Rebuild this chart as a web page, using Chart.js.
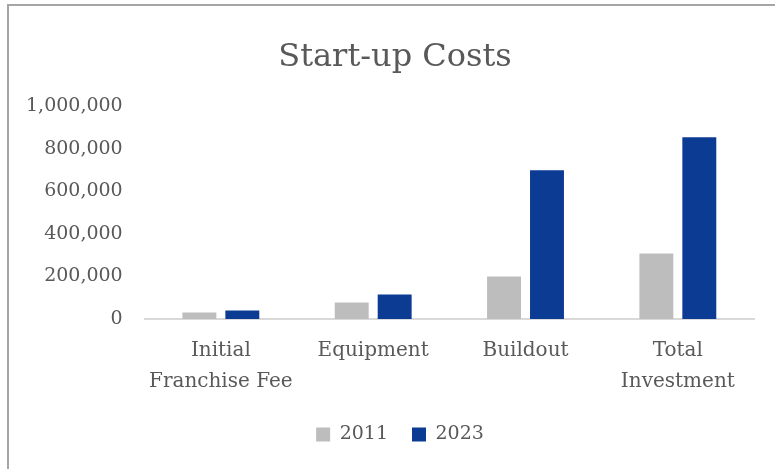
<!DOCTYPE html>
<html>
<head>
<meta charset="utf-8">
<script src="https://cdn.jsdelivr.net/npm/chart.js@4"></script>
<style>
  html, body { margin: 0; padding: 0; background: #fff; overflow: hidden; }
  #wrap { position: relative; width: 775px; height: 469px; }
  #frame {
    position: absolute; left: 7px; top: 4px; width: 900px; height: 600px;
    border: 2px solid #a5a5a5; box-sizing: border-box;
  }
  #chart { position: absolute; left: 0; top: 0; }
</style>
</head>
<body>
<div id="wrap">
  <div id="frame"></div>
  <canvas id="chart" width="775" height="469"></canvas>
</div>
<script>
// start-up cost data
const categories = [['Initial', 'Franchise Fee'], 'Equipment', 'Buildout', ['Total', 'Investment']];
const costs2011 = [30000, 78000, 200000, 308000];
const costs2023 = [40000, 115000, 700000, 855000];
const yTicks = [0, 200000, 400000, 600000, 800000, 1000000];

const serif = 'DejaVu Serif';
const textColor = '#595959';

// title and legend sit centred on the frame, not on the padded chart box
const shiftBlocks = {
    id: 'shiftBlocks',
    afterLayout(chart) {
        if (chart.titleBlock) {
            chart.titleBlock.left += 16;
            chart.titleBlock.right += 16;
        }
        if (chart.legend) {
            chart.legend.left += 21;
            chart.legend.right += 21;
        }
    }
};

const ctx = document.getElementById('chart').getContext('2d');
const chart = new Chart(ctx, {
    type: 'bar',
    data: {
        labels: categories,
        datasets: [{
            label: '2011',
            data: costs2011,
            backgroundColor: '#bdbdbd',
            categoryPercentage: 0.564,
            barPercentage: 0.79
        }, {
            label: '2023',
            data: costs2023,
            backgroundColor: '#0b3b92',
            categoryPercentage: 0.564,
            barPercentage: 0.79
        }]
    },
    plugins: [shiftBlocks],
    options: {
        responsive: false,
        animation: false,
        layout: {
            padding: { left: 4, right: 21, top: 0, bottom: 15 }
        },
        plugins: {
            title: {
                display: true,
                text: 'Start-up Costs',
                color: textColor,
                font: { family: serif, size: 32, weight: 'normal' },
                padding: { top: 38, bottom: 30 }
            },
            legend: {
                position: 'bottom',
                labels: {
                    color: textColor,
                    font: { family: serif, size: 19 },
                    boxWidth: 14,
                    boxHeight: 14,
                    padding: 24
                }
            },
            tooltip: { enabled: false }
        },
        scales: {
            x: {
                grid: { display: false, drawTicks: false },
                border: { display: true, color: '#d9d9d9', width: 2 },
                ticks: {
                    color: textColor,
                    font: { family: serif, size: 20, lineHeight: 1.55 },
                    padding: 16,
                    maxRotation: 0
                },
                afterFit: (axis) => {
                    // two-line labels plus padding, no side overhang
                    axis.height = 82;
                    axis.paddingLeft = 0;
                    axis.paddingRight = 0;
                }
            },
            y: {
                min: 0,
                max: 1000000,
                afterBuildTicks: (axis) => {
                    axis.ticks = yTicks.map(v => ({ value: v }));
                },
                grid: { display: false, drawTicks: false },
                border: { display: false },
                ticks: {
                    color: textColor,
                    font: { family: serif, size: 19 },
                    padding: 22,
                    callback: (v) => v.toLocaleString('en-US')
                }
            }
        }
    }
});
</script>
</body>
</html>
